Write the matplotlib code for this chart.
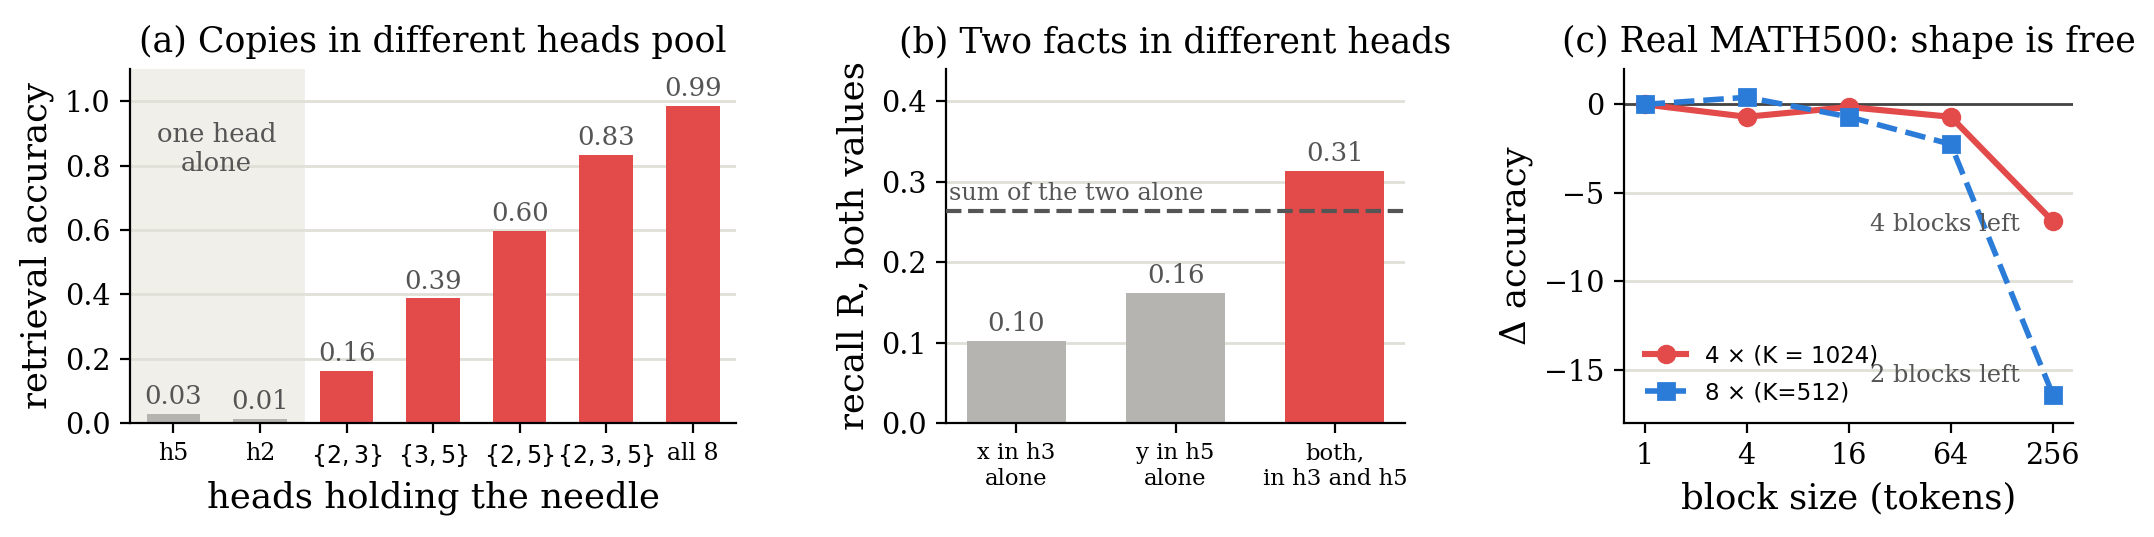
import matplotlib
matplotlib.use("Agg")
import matplotlib.pyplot as plt

# panel (a)
heads_labels = ["h5", "h2", r"$\{2,3\}$", r"$\{3,5\}$", r"$\{2,5\}$", r"$\{2,3,5\}$", "all 8"]
heads_acc = [0.028, 0.013, 0.161, 0.387, 0.597, 0.833, 0.986]
heads_alone = [True, True, False, False, False, False, False]

# panel (b)
facts_labels = ["x in h3\nalone", "y in h5\nalone", "both,\nin h3 and h5"]
facts_recall = [0.102, 0.162, 0.313]
facts_alone = [True, True, False]
sum_alone = 0.263

# panel (c)
block_sizes = [1, 4, 16, 64, 256]
delta_4x = [0.0, -0.7, -0.15, -0.7, -6.6]
delta_8x = [0.0, 0.4, -0.7, -2.25, -16.4]

RED = "#e34a4a"
GRAY = "#b5b4b0"
BLUE = "#2b7bd8"
GRID = "#e0e0d8"
TXT = "#555555"

plt.rcParams["font.family"] = ["DejaVu Serif"]
plt.rcParams["axes.titlesize"] = 12.5
plt.rcParams["axes.labelsize"] = 12.8
plt.rcParams["ytick.labelsize"] = 10.3
plt.rcParams["xtick.labelsize"] = 10.3

fig = plt.figure(figsize=(10.77, 2.685), dpi=200)
ax1 = fig.add_axes([0.0604, 0.2123, 0.2813, 0.6592])
ax2 = fig.add_axes([0.4392, 0.2123, 0.2131, 0.6592])
ax3 = fig.add_axes([0.754, 0.2123, 0.2085, 0.6592])

for ax in (ax1, ax2, ax3):
    ax.spines["top"].set_visible(False)
    ax.spines["right"].set_visible(False)
    ax.set_axisbelow(True)
    ax.yaxis.grid(True, color=GRID, lw=1.0)

# (a)
x = list(range(len(heads_acc)))
ax1.axvspan(-0.5, 1.5, color="#f0efea", zorder=0)
cols = [GRAY if a else RED for a in heads_alone]
ax1.bar(x, heads_acc, width=0.62, color=cols, zorder=2)
for xi, v in zip(x, heads_acc):
    ax1.text(xi, v + 0.015, f"{v:.2f}", ha="center", va="bottom", fontsize=9.3, color=TXT)
ax1.text(0.5, 0.85, "one head\nalone", ha="center", va="center", fontsize=9.3, color=TXT)
ax1.set_xlim(-0.5, 6.5)
ax1.set_ylim(0, 1.1)
ax1.set_xticks(x)
ax1.set_xticklabels(heads_labels, fontsize=8.5)
ax1.set_ylabel("retrieval accuracy")
ax1.set_xlabel("heads holding the needle")
ax1.set_title("(a) Copies in different heads pool")

# (b)
xb = list(range(len(facts_recall)))
cols = [GRAY if a else RED for a in facts_alone]
ax2.bar(xb, facts_recall, width=0.62, color=cols, zorder=2)
for xi, v in zip(xb, facts_recall):
    ax2.text(xi, v + 0.006, f"{v:.2f}", ha="center", va="bottom", fontsize=9.3, color=TXT)
ax2.axhline(sum_alone, color=TXT, ls="--", lw=1.5, zorder=3)
ax2.text(-0.42, sum_alone + 0.008, "sum of the two alone", ha="left", va="bottom",
         fontsize=8.6, color=TXT)
ax2.set_ylim(0, 0.44)
ax2.set_yticks([0.0, 0.1, 0.2, 0.3, 0.4])
ax2.set_xticks(xb)
ax2.set_xticklabels(facts_labels, fontsize=8.2)
ax2.set_ylabel("recall R, both values")
ax2.set_title("(b) Two facts in different heads")

# (c)
ax3.axhline(0, color="#444444", lw=1.0, zorder=1)
ax3.plot(block_sizes, delta_4x, color=RED, lw=2.2, marker="o", ms=6,
         label="4 × (K = 1024)", zorder=3)
ax3.plot(block_sizes, delta_8x, color=BLUE, lw=2.0, ls="--", marker="s", ms=6,
         label="8 × (K=512)", zorder=3)
ax3.set_xscale("log", base=2)
ax3.set_xticks(block_sizes)
ax3.set_xticklabels([str(b) for b in block_sizes])
ax3.minorticks_off()
ax3.set_ylim(-18, 2)
ax3.set_yticks([0, -5, -10, -15])
ax3.annotate("4 blocks left", xy=(256, -6.8), xytext=(-12, 0), textcoords="offset points",
             ha="right", va="center", fontsize=8.7, color=TXT)
ax3.annotate("2 blocks left", xy=(256, -15.3), xytext=(-12, 0), textcoords="offset points",
             ha="right", va="center", fontsize=8.7, color=TXT)
ax3.legend(loc="lower left", frameon=False, prop={"family": "DejaVu Sans", "size": 8.3},
           handlelength=1.8, labelspacing=0.6, bbox_to_anchor=(0.0, -0.005))
ax3.set_ylabel("Δ accuracy")
ax3.set_xlabel("block size (tokens)")
ax3.set_title("(c) Real MATH500: shape is free")

fig.savefig("out.png", dpi=200)
